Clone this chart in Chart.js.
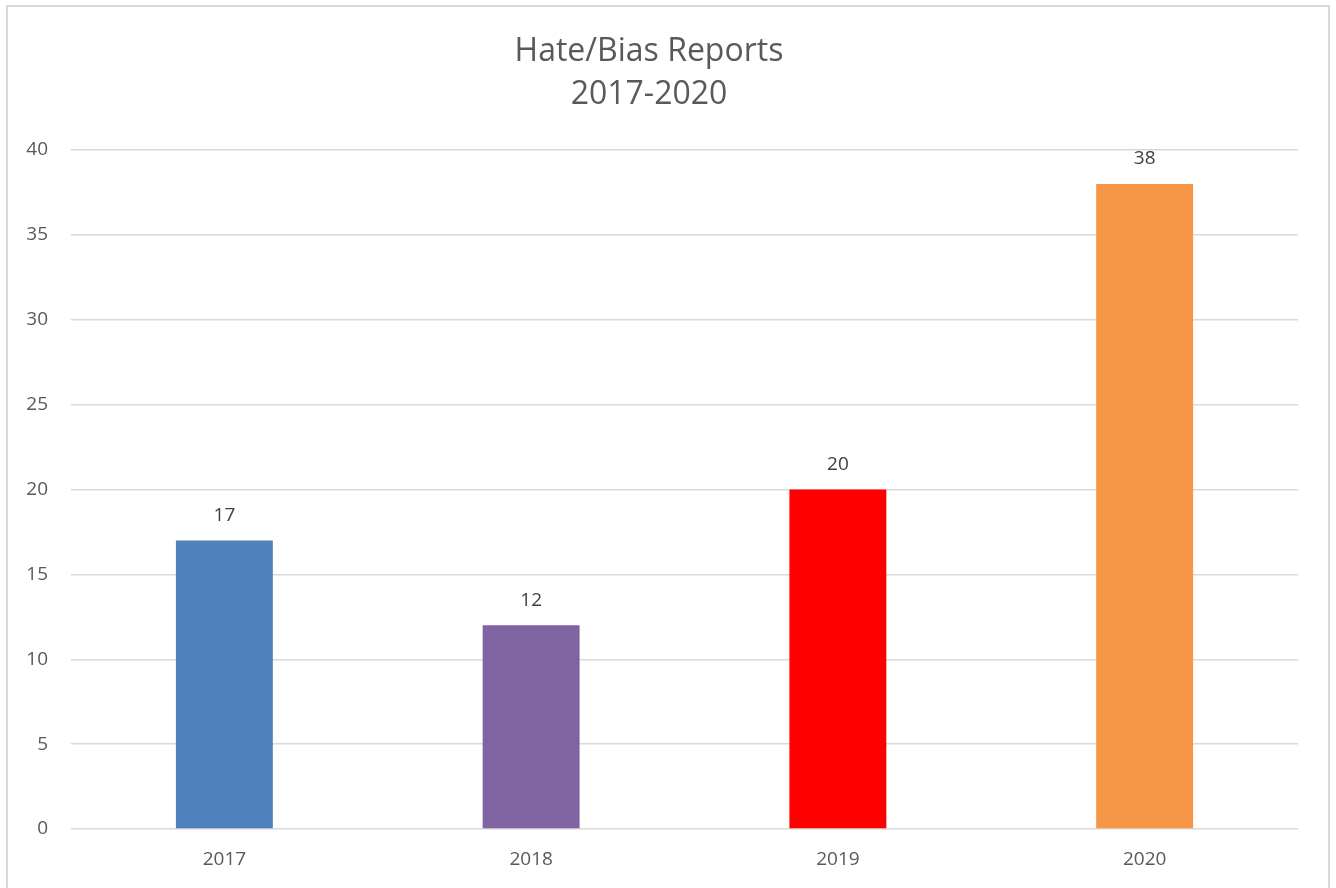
<!DOCTYPE html>
<html>
<head>
<meta charset="utf-8">
<script src="https://cdn.jsdelivr.net/npm/chart.js@4/dist/chart.umd.min.js"></script>
<style>
  html, body { margin: 0; padding: 0; background: #fff; }
  #wrap { position: absolute; left: 0; top: 0; width: 1336px; height: 888px; }
</style>
</head>
<body>
<div id="wrap"><canvas id="barChart"></canvas></div>
<script>
// dati del grafico
var years = ["2017", "2018", "2019", "2020"];
var reports = [17, 12, 20, 38];
var barColors = ["#4F81BD", "#8064A2", "#FF0000", "#F79646"];
var yTicks = [0, 5, 10, 15, 20, 25, 30, 35, 40];

var fontFamily = "'Open Sans', 'Liberation Sans', sans-serif";

// bordo grigio attorno al grafico
var borderPlugin = {
  id: 'chartBorder',
  afterDraw: function (chart) {
    var ctx = chart.ctx;
    ctx.save();
    ctx.strokeStyle = "#d9d9d9";
    ctx.lineWidth = 2;
    ctx.strokeRect(7, 6, 1322, 900);
    ctx.restore();
  }
};

// etichette sopra le barre
var valueLabels = {
  id: 'valueLabels',
  afterDatasetsDraw: function (chart) {
    var ctx = chart.ctx;
    var meta = chart.getDatasetMeta(0);
    ctx.save();
    ctx.fillStyle = "#404040";
    ctx.font = "19px " + fontFamily;
    ctx.textAlign = "center";
    ctx.textBaseline = "middle";
    meta.data.forEach(function (bar, i) {
      ctx.fillText(String(reports[i]), bar.x, bar.y - 25);
    });
    ctx.restore();
  }
};

var barChartCanvas = document.getElementById("barChart").getContext("2d");
var barChart = new Chart(barChartCanvas, {
  type: 'bar',
  data: {
    labels: years,
    datasets: [{
      label: "Reports",
      data: reports,
      backgroundColor: barColors,
      borderWidth: 0,
      categoryPercentage: 1,
      barPercentage: 0.316
    }]
  },
  options: {
    responsive: true,
    maintainAspectRatio: false,
    animation: false,
    layout: { padding: { left: 0, right: 38, top: 0, bottom: 0 } },
    plugins: {
      legend: { display: false },
      tooltip: { enabled: false },
      title: {
        display: true,
        text: ["Hate/Bias Reports", "2017-2020"],
        color: "#595959",
        font: { family: fontFamily, size: 32, weight: 'normal', lineHeight: 1.36 },
        padding: { top: 30, bottom: 33 }
      }
    },
    scales: {
      x: {
        grid: { display: false, drawTicks: false },
        border: { display: false },
        ticks: { color: "#595959", font: { family: fontFamily, size: 19 }, padding: 19 },
        afterFit: function (scale) { scale.height = 59; }
      },
      y: {
        min: 0,
        max: 40,
        afterBuildTicks: function (scale) {
          scale.ticks = yTicks.map(function (v) { return { value: v }; });
        },
        grid: { color: "#d9d9d9", lineWidth: 1.5, drawTicks: false },
        border: { display: false },
        ticks: { color: "#595959", font: { family: fontFamily, size: 19 }, padding: 23 },
        afterFit: function (scale) { scale.width = 71; }
      }
    }
  },
  plugins: [valueLabels, borderPlugin]
});
</script>
</body>
</html>
